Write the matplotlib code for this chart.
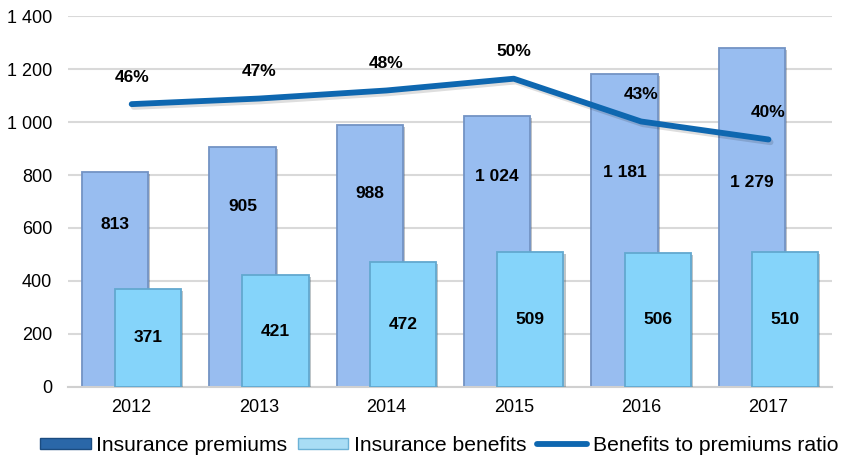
import numpy as np
import matplotlib.pyplot as plt
import matplotlib.patheffects as pe
from matplotlib.patches import Patch
from matplotlib.lines import Line2D

plt.rcParams['font.family'] = ['Liberation Sans', 'DejaVu Sans']

years = ['2012', '2013', '2014', '2015', '2016', '2017']
premiums = [813, 905, 988, 1024, 1181, 1279]
benefits = [371, 421, 472, 509, 506, 510]
ratio = [0.456, 0.465, 0.478, 0.497, 0.428, 0.399]
ratio_labels = ['46%', '47%', '48%', '50%', '43%', '40%']
# where excel put the premium labels
prem_label_y = [615, 683, 732, 796, 808, 770]


def fmt(v):
    return '{:,}'.format(int(v)).replace(',', ' ')


fig = plt.figure(figsize=(8.5, 4.59), dpi=100)
ax = fig.add_axes([0.08, 0.157, 0.899, 0.808])

x = np.arange(len(years))
w = 0.52
shadow = [pe.SimplePatchShadow(offset=(1.5, -1.5), alpha=0.3), pe.Normal()]

b1 = ax.bar(x - 0.13, premiums, w, color='#98BDF0', edgecolor='#7393C4',
            linewidth=1.3, zorder=2, path_effects=shadow)
b2 = ax.bar(x + 0.13, benefits, w, color='#85D4FA', edgecolor='#62A8CF',
            linewidth=1.3, zorder=3, path_effects=shadow)

for i in range(len(years)):
    ax.text(x[i] - 0.13, prem_label_y[i], fmt(premiums[i]), ha='center', va='center',
            fontsize=12.5, fontweight='bold', color='black', zorder=6)
    ax.text(x[i] + 0.13, benefits[i] / 2, fmt(benefits[i]), ha='center', va='center',
            fontsize=12.5, fontweight='bold', color='black', zorder=6)

ax.set_ylim(0, 1400)
ax.set_xlim(-0.5, len(years) - 0.5)
ax.set_yticks(range(0, 1401, 200))
ax.set_yticklabels([fmt(v) for v in range(0, 1401, 200)])
ax.set_xticks(x)
ax.set_xticklabels(years)
ax.tick_params(axis='both', length=0, labelsize=13, colors='black')
ax.tick_params(axis='y', pad=11.5)
ax.tick_params(axis='x', pad=9)
ax.grid(axis='y', color='#D9D9D9', linewidth=1.5, zorder=0)
ax.set_axisbelow(True)
for s in ['top', 'right', 'left']:
    ax.spines[s].set_visible(False)
ax.spines['bottom'].set_color('#D0D0D0')
ax.spines['bottom'].set_linewidth(1.5)

ax2 = ax.twinx()
ax2.set_ylim(0, 0.598)
ax2.axis('off')
ax2.plot(x, ratio, color='#0E67B0', linewidth=4.2, solid_capstyle='round', zorder=5,
         path_effects=[pe.SimpleLineShadow(offset=(1.5, -2), alpha=0.13), pe.Normal()])
for i in range(len(years)):
    ax2.annotate(ratio_labels[i], (x[i], ratio[i]), xytext=(0, 19.5), textcoords='offset points',
                 ha='center', va='center', fontsize=12.5, fontweight='bold')

handles = [Patch(facecolor='#2A67A8', edgecolor='#1B4C80'),
           Patch(facecolor='#A9DDF5', edgecolor='#6CB2D6'),
           Line2D([0], [0], color='#0E67B0', linewidth=4.2, solid_capstyle='round')]
fig.legend(handles, ['Insurance premiums', 'Insurance benefits', 'Benefits to premiums ratio'],
           loc='center left', bbox_to_anchor=(0.047, 0.03), ncol=3, frameon=False,
           fontsize=15.2, handlelength=2.4, handleheight=0.45, handletextpad=0.25,
           columnspacing=0.5, borderpad=0, borderaxespad=0)

fig.savefig('out.png', dpi=100)
